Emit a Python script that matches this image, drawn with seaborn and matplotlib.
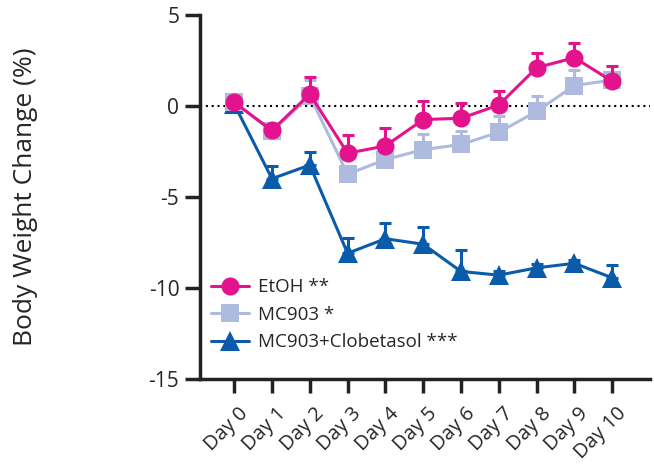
import numpy as np
import pandas as pd
import matplotlib
matplotlib.use("Agg")
import matplotlib.pyplot as plt
import seaborn as sns
from matplotlib.transforms import ScaledTranslation

# データ
days = ["Day 0", "Day 1", "Day 2", "Day 3", "Day 4", "Day 5",
        "Day 6", "Day 7", "Day 8", "Day 9", "Day 10"]
groups = ["EtOH **", "MC903 *", "MC903+Clobetasol ***"]

etoh = [0.2, -1.35, 0.65, -2.6, -2.2, -0.75, -0.68, 0.05, 2.1, 2.65, 1.35]
etoh_err = [0.05, 0.2, 0.95, 1.0, 1.0, 1.0, 0.82, 0.78, 0.78, 0.78, 0.84]

mc903 = [0.2, -1.4, 0.55, -3.75, -2.95, -2.4, -2.12, -1.45, -0.3, 1.12, 1.42]
mc903_err = [0.05, 0.2, 0.9, 0.3, 0.3, 0.86, 0.76, 0.9, 0.83, 0.88, 0.3]

clob = [0.1, -4.0, -3.25, -8.1, -7.3, -7.6, -9.1, -9.3, -8.9, -8.65, -9.45]
clob_err = [0.05, 0.72, 0.7, 0.85, 0.85, 0.95, 1.2, 0.2, 0.2, 0.2, 0.7]

colors = ["#E2138C", "#AEBBDE", "#0A5CAB"]
markers = ["o", "s", "^"]

sns.set_style("ticks")
plt.rcParams['font.family'] = ['Open Sans', 'DejaVu Sans']
plt.rcParams['axes.unicode_minus'] = False

fig = plt.figure(figsize=(6.54, 4.66), dpi=100)
ax = fig.add_axes([0.306, 0.187, 0.688, 0.781])

x = np.arange(len(days))
series = [(etoh, etoh_err), (mc903, mc903_err), (clob, clob_err)]

# 後ろから描画（EtOHが最前面）
for i in [2, 1, 0]:
    vals, err = series[i]
    df = pd.DataFrame({'x': x, 'y': vals})
    ax.errorbar(x, vals, yerr=[np.zeros(len(err)), err], fmt='none',
                ecolor=colors[i], elinewidth=2.2, capsize=4.5, capthick=2.2,
                zorder=2 + (2 - i) * 2)
    sns.lineplot(data=df, x='x', y='y', ax=ax, color=colors[i],
                 marker=markers[i], markersize=13 if i != 2 else 14,
                 markeredgewidth=0, linewidth=2.2, label=groups[i],
                 zorder=3 + (2 - i) * 2)

ax.axhline(0, color='black', linestyle=(0, (1, 1.8)), linewidth=1.5, zorder=1)

ax.set_xlim(-0.9, 11.0)
ax.set_ylim(-15, 5)
ax.set_yticks([5, 0, -5, -10, -15])
ax.set_xticks(x)
ax.tick_params(axis='y', labelsize=15, length=11, width=2.5, pad=4, color='#222222')
ax.tick_params(axis='x', length=10, width=2.5, pad=2, color='#222222')
ax.set_xticklabels(days, rotation=45, ha='right', va='center',
                   rotation_mode='anchor', fontsize=14.5)
offset = ScaledTranslation(8 / 72, -11 / 72, fig.dpi_scale_trans)
for lab in ax.get_xticklabels():
    lab.set_transform(lab.get_transform() + offset)

ax.set_xlabel('')
ax.set_ylabel('Body Weight Change (%)', fontsize=19)
ax.yaxis.set_label_coords(-0.36, 0.5)

for s in ['top', 'right']:
    ax.spines[s].set_visible(False)
for s in ['left', 'bottom']:
    ax.spines[s].set_linewidth(2.5)
    ax.spines[s].set_color('#222222')

h, l = ax.get_legend_handles_labels()
order = [l.index(g) for g in groups]
ax.legend([h[k] for k in order], [l[k] for k in order], loc='lower left',
          bbox_to_anchor=(0.0, 0.045), frameon=False, fontsize=13.5,
          handlelength=2.0, labelspacing=0.5, handletextpad=0.5,
          borderaxespad=0.2)

fig.savefig('out.png', dpi=100)
